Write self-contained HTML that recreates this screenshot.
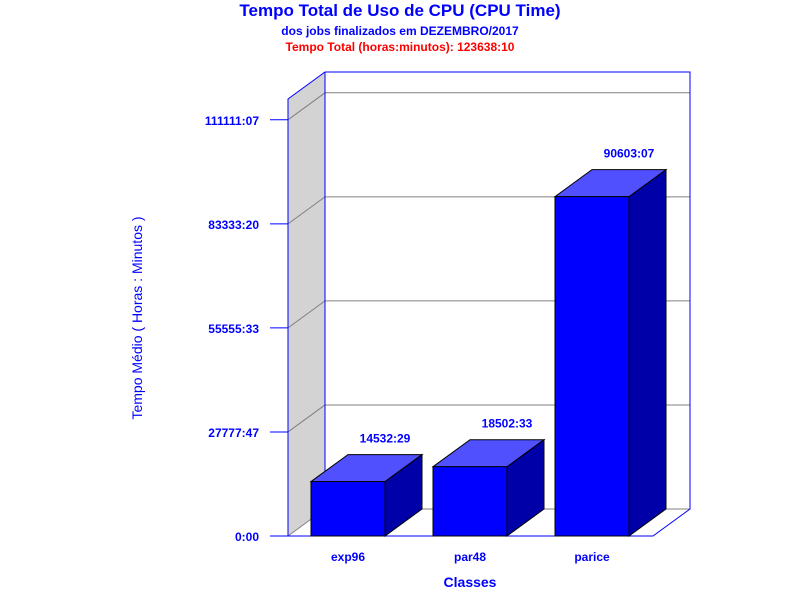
<!DOCTYPE html>
<html><head><meta charset="utf-8"><style>body{margin:0;background:#fff}svg{display:block;font-family:"Liberation Sans",sans-serif;font-weight:bold}</style></head>
<body>
<svg id="c" width="800" height="600" viewBox="0 0 800 600">
<text x="400" y="16" text-anchor="middle" font-size="17" fill="#0000ff">Tempo Total de Uso de CPU (CPU Time)</text>
<text x="400" y="35" text-anchor="middle" font-size="12" fill="#0000ff">dos jobs finalizados em DEZEMBRO/2017</text>
<text x="400" y="51" text-anchor="middle" font-size="12" fill="#ff0000">Tempo Total (horas:minutos): 123638:10</text>
<text transform="translate(142,318) rotate(-90)" text-anchor="middle" font-size="14" fill="#0000ff" font-weight="normal">Tempo Médio ( Horas : Minutos )</text>
<text x="470" y="587" text-anchor="middle" font-size="14" fill="#0000ff">Classes</text>
<g id="g"></g>
</svg>
<script>
const categories=["exp96","par48","parice"];
const values=[14532.48,18502.55,90603.12];
const labels=["14532:29","18502:33","90603:07"];
const tickValues=[0,27777.78,55555.55,83333.33,111111.12];
const tickLabels=["0:00","27777:47","55555:33","83333:20","111111:07"];
const NS="http://www.w3.org/2000/svg",g=document.getElementById('g');
const x0=288,y0=536,dx=37,dy=27,xR=653,yMax=116666.67,yTop=99;
const Y=v=>y0-(v/yMax)*(y0-yTop);
function el(t,a,name){const e=document.createElementNS(NS,t);for(const k in a)e.setAttribute(k,a[k]);


g.appendChild(e);return e;}
el('polygon',{points:`${x0},${yTop} ${x0+dx},${yTop-dy} ${x0+dx},${y0-dy} ${x0},${y0}`,fill:'#d3d3d3',stroke:'none'},'left-wall');
tickValues.forEach((v,i)=>{const y=Y(v);
if(i>0){el('line',{x1:x0,y1:y,x2:x0+dx,y2:y-dy,stroke:'#808080'},'gridline-side');
el('line',{x1:x0+dx,y1:y-dy,x2:x0+dx+xR-x0,y2:y-dy,stroke:'#808080'},'gridline-back');}
el('line',{x1:270,y1:y,x2:x0,y2:y,stroke:'#0000ff'},'y-tick');
const t=el('text',{x:259,y:y+5,'text-anchor':'end','font-size':12,fill:'#0000ff'},'y-tick-label');t.textContent=tickLabels[i];});
el('line',{x1:x0+dx,y1:y0-dy,x2:xR+dx,y2:y0-dy,stroke:'#808080'},'gridline-floor-back');
el('line',{x1:x0,y1:y0-0,x2:x0+dx,y2:y0-dy,stroke:'#808080'},'floor-side');
el('polyline',{points:`${x0},${y0} ${x0},${yTop} ${x0+dx},${yTop-dy} ${xR+dx},${yTop-dy} ${xR+dx},${y0-dy} ${xR},${y0} ${x0},${y0}`,fill:'none',stroke:'#0000ff'},'plot-frame');
el('line',{x1:x0+dx,y1:yTop-dy,x2:x0+dx,y2:y0-dy,stroke:'#0000ff'},'back-wall-left-edge');
const bw=74,step=122,first=311;
categories.forEach((c,i)=>{const xl=first+i*step,xr=xl+bw,yt=Y(values[i]);
el('polygon',{points:`${xr},${yt} ${xr+dx},${yt-dy} ${xr+dx},${y0-dy} ${xr},${y0}`,fill:'#0000a8',stroke:'#000'},'bar-side-'+c);
el('polygon',{points:`${xl},${yt} ${xl+dx},${yt-dy} ${xr+dx},${yt-dy} ${xr},${yt}`,fill:'#5050ff',stroke:'#000'},'bar-top-'+c);
el('rect',{x:xl,y:yt,width:bw,height:y0-yt,fill:'#0000ff',stroke:'#000'},'bar-'+c);
const v=el('text',{x:xl+dx+bw/2,y:yt-dy-12,'text-anchor':'middle','font-size':12,fill:'#0000ff'},'value-label-'+c);v.textContent=labels[i];
const t=el('text',{x:xl+bw/2,y:561,'text-anchor':'middle','font-size':12,fill:'#0000ff'},'x-label-'+c);t.textContent=c;});
</script>
</body></html>
